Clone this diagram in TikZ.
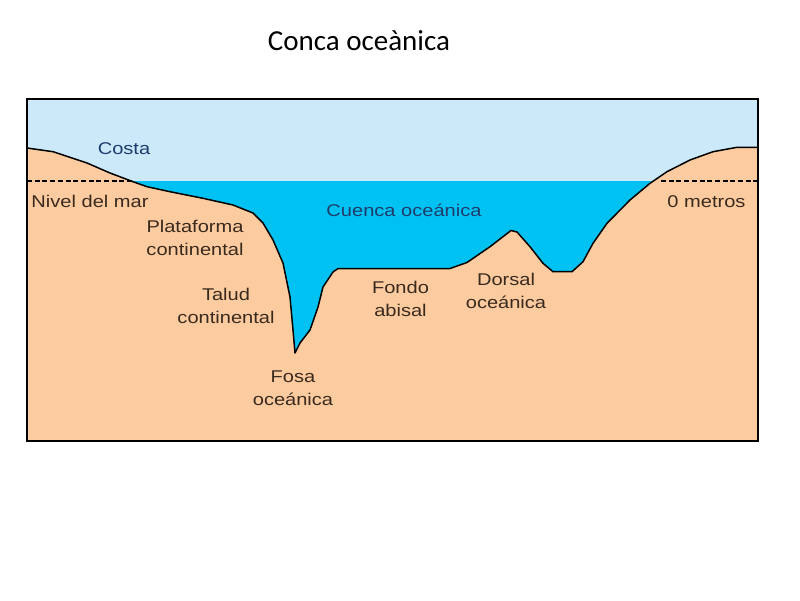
\documentclass[tikz,border=0pt]{standalone}
\usepackage{fontspec}
\setmainfont{Carlito}
\newfontfamily\labelfont[FakeStretch=1.18]{Liberation Sans}
\usepackage{tikz}
\definecolor{sky}{HTML}{CBE9F9}
\definecolor{water}{HTML}{00C2F2}
\definecolor{land}{HTML}{FCCCA0}
\definecolor{landtext}{HTML}{3A2A1E}
\definecolor{watertext}{HTML}{1E3D6C}
\newcommand{\seabed}{
    (27,148) -- (53,151.7) -- (87,163) -- (110,173) -- (133,181.7) -- (147,186.7)
    -- (170,191.7) -- (203,198.3) -- (233,205) -- (253,213) -- (263,223) -- (273,240)
    -- (283,263) -- (290,297) -- (293,330) -- (295,353) -- (300,343) -- (310,330)
    -- (318,307) -- (323,287) -- (333,272) -- (338,268.5) -- (450,268.5) -- (467,262.5)
    -- (490,246.7) -- (511,230.5) -- (517,232) -- (530,246.7) -- (543,263.3) -- (553,271.7)
    -- (572,271.7) -- (583,261.7) -- (593,243.3) -- (607,223.3) -- (630,200) -- (650,183.3)
    -- (667,171.7) -- (690,160) -- (713,151.7) -- (737,147.3) -- (758,147.3)
}

\begin{document}
\begin{tikzpicture}[x=1pt,y=-1pt,
        landlabel/.style={font=\labelfont\fontsize{17}{23}\selectfont, text=landtext,
            align=center, inner sep=0pt, anchor=base},
        waterlabel/.style={landlabel, text=watertext},
        sealevel/.style={line width=1.3pt, dash pattern=on 5pt off 2.7pt},
        seafloor/.style={line width=1.5pt, line join=round}]
        \useasboundingbox (0,0) rectangle (800,600);
        % box corners
        \coordinate (nw) at (27,99);
        \coordinate (se) at (758,441);
        \coordinate (sl) at (27,181);
        \coordinate (sr) at (758,181);
        % sky, sea and land
        \fill[sky] (nw) rectangle (se);
        \fill[water] (sl) rectangle (se);
        \fill[land] \seabed -- (758,441) -- (27,441) -- cycle;
        % sea level
        \draw[sealevel] (sl) -- (133,181);
        \draw[sealevel] (661,181) -- (sr);
        \draw[seafloor] \seabed;
        \draw[line width=2pt] (nw) rectangle (se);
        % labels (base = last line)
        \node[font=\fontsize{29}{34}\selectfont, anchor=base] (title) at (359,50) {Conca oceànica};
        \node[waterlabel] (costa) at (124,154) {Costa};
        \node[landlabel] (nivel) at (90,207) {Nivel del mar};
        \node[landlabel] (plataforma) at (195,255) {Plataforma\\continental};
        \node[landlabel] (talud) at (226,323) {Talud\\continental};
        \node[landlabel] (fosa) at (293,405) {Fosa\\oceánica};
        \node[waterlabel] (cuenca) at (404,216.7) {Cuenca oceánica};
        \node[landlabel] (fondo) at (400.5,316.7) {Fondo\\abisal};
        \node[landlabel] (dorsal) at (506,308) {Dorsal\\oceánica};
        \node[landlabel] (metros) at (706.5,207.3) {0 metros};
\end{tikzpicture}
\end{document}
